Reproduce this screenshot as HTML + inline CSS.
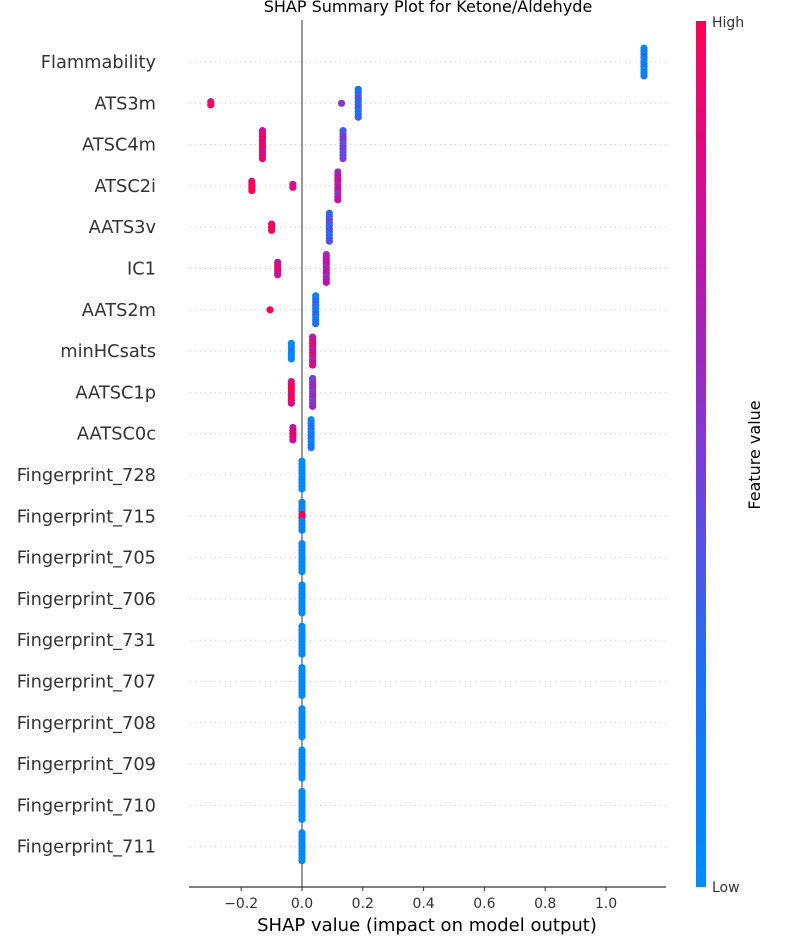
<!DOCTYPE html>
<html><head><meta charset="utf-8"><style>
html,body{margin:0;padding:0;background:#fff;}
svg{display:block;font-family:"DejaVu Sans","Liberation Sans",sans-serif;}
</style></head><body>
<svg id="chart" width="800" height="950" viewBox="0 0 800 950" xmlns="http://www.w3.org/2000/svg">
<defs>
<linearGradient id="cb" x1="0" y1="1" x2="0" y2="0">
<stop offset="0" stop-color="#008bfb"/>
<stop offset="0.25" stop-color="#1f6ff0"/>
<stop offset="0.5" stop-color="#7c3cd6"/>
<stop offset="0.75" stop-color="#c2139f"/>
<stop offset="1" stop-color="#ff0052"/>
</linearGradient>
</defs>
<text x="428" y="12" font-size="16" text-anchor="middle" fill="#000">SHAP Summary Plot for Ketone/Aldehyde</text>
<g id="grid"></g>
<line x1="302" y1="20" x2="302" y2="887" stroke="#999" stroke-width="2"/>
<g id="dots"></g>
<g id="labels"></g>
<line x1="189" y1="887" x2="666" y2="887" stroke="#000" stroke-width="1"/>
<g id="ticks"></g>
<text x="427" y="931" font-size="18" text-anchor="middle" fill="#000">SHAP value (impact on model output)</text>
<rect x="696" y="21" width="10" height="866" fill="url(#cb)"/>
<text x="712" y="27" font-size="14" fill="#333">High</text>
<text x="712" y="892" font-size="14" fill="#333">Low</text>
<text x="760" y="455" font-size="16" text-anchor="middle" fill="#000" transform="rotate(-90 760 455)">Feature value</text>
</svg>
<script>
const features = ["Flammability","ATS3m","ATSC4m","ATSC2i","AATS3v","IC1","AATS2m","minHCsats","AATSC1p","AATSC0c","Fingerprint_728","Fingerprint_715","Fingerprint_705","Fingerprint_706","Fingerprint_731","Fingerprint_707","Fingerprint_708","Fingerprint_709","Fingerprint_710","Fingerprint_711"];
// clusters per feature: [shap value, count, feature value 0..1]
const clusters = [
 [[1.125,10,0.12]],
 [[-0.30,2,1.0],[0.13,1,0.55],[0.185,10,0.3]],
 [[-0.13,10,0.88],[0.135,10,0.45]],
 [[-0.165,4,1.0],[-0.03,2,0.9],[0.118,10,0.7]],
 [[-0.10,3,1.0],[0.09,10,0.35]],
 [[-0.08,5,0.85],[0.08,10,0.7]],
 [[-0.105,1,1.0],[0.045,10,0.2]],
 [[-0.035,6,0.05],[0.035,10,0.8]],
 [[-0.035,8,0.95],[0.035,10,0.55]],
 [[-0.03,5,0.85],[0.03,10,0.15]],
 [[0,10,0.02]],[[0,10,0.1]],[[0,10,0.02]],[[0,10,0.02]],[[0,10,0.02]],
 [[0,10,0.02]],[[0,10,0.02]],[[0,10,0.02]],[[0,10,0.02]],[[0,10,0.02]]
];
const xTicks = [-0.2,0.0,0.2,0.4,0.6,0.8,1.0];
const xTickLabels = ["\u22120.2","0.0","0.2","0.4","0.6","0.8","1.0"];

const NS="http://www.w3.org/2000/svg";
const xs = v => 302 + v*304;
const ys = i => 62 + i*41.3;
function col(t){
  const stops=[[0,[0,139,251]],[0.25,[31,111,240]],[0.5,[124,60,214]],[0.75,[194,19,159]],[1,[255,0,82]]];
  for(let k=1;k<stops.length;k++){ if(t<=stops[k][0]){const a=stops[k-1],b=stops[k];const f=(t-a[0])/(b[0]-a[0]);
    return "rgb("+a[1].map((c,j)=>Math.round(c+(b[1][j]-c)*f)).join(",")+")";}}
  return "rgb(255,0,82)";
}
const grid=document.getElementById('grid'), dots=document.getElementById('dots'), labels=document.getElementById('labels'), ticks=document.getElementById('ticks');
features.forEach((f,i)=>{
  const y=ys(i);
  const g=document.createElementNS(NS,'line');
  
  
  g.setAttribute('x1',190);g.setAttribute('x2',666);g.setAttribute('y1',y);g.setAttribute('y2',y);
  g.setAttribute('stroke','#ccc');g.setAttribute('stroke-dasharray','1 4');g.setAttribute('stroke-width','1');
  grid.appendChild(g);
  const t=document.createElementNS(NS,'text');
  
  
  t.setAttribute('x',156);t.setAttribute('y',y+6);t.setAttribute('text-anchor','end');t.setAttribute('font-size','17.8');t.setAttribute('fill','#333');
  t.textContent=f; labels.appendChild(t);
  clusters[i].forEach(c=>{
    const n=c[1];
    for(let k=0;k<n;k++){
      const cy=y+(k-(n-1)/2)*3.1;
      let fv=c[2];
      if(i===11 && k>=4 && k<=5) fv=1.0;
      else if(n>1 && i<10) fv=Math.max(0,Math.min(1,fv+((k*37)%7-3)*0.04));
      const d=document.createElementNS(NS,'circle');
      
      
      d.setAttribute('cx',xs(c[0]));d.setAttribute('cy',cy);d.setAttribute('r',3.6);
      d.setAttribute('fill',col(fv));
      dots.appendChild(d);
    }
  });
});
xTicks.forEach((v,i)=>{
  const l=document.createElementNS(NS,'line');
  
  
  l.setAttribute('x1',xs(v));l.setAttribute('x2',xs(v));l.setAttribute('y1',887);l.setAttribute('y2',891);l.setAttribute('stroke','#333');
  ticks.appendChild(l);
  const t=document.createElementNS(NS,'text');
  
  
  t.setAttribute('x',xs(v));t.setAttribute('y',908);t.setAttribute('text-anchor','middle');t.setAttribute('font-size','14');t.setAttribute('fill','#333');
  t.textContent=xTickLabels[i]; ticks.appendChild(t);
});
</script>
</body></html>
